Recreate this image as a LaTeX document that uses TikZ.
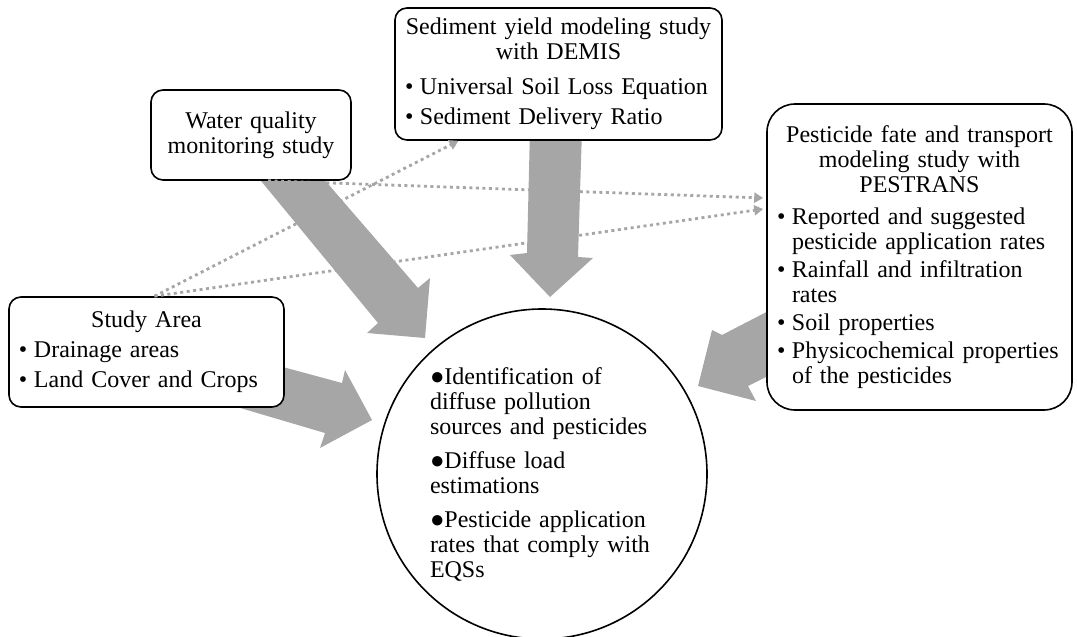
\documentclass[tikz,border=0pt]{standalone}
\usepackage{fontspec}
\setmainfont{Liberation Serif}
\usetikzlibrary{arrows.meta}
\usetikzlibrary{positioning}
\definecolor{arrowgray}{RGB}{166,166,166}
\newcommand{\itm}[1]{\par\hangindent=15pt\hangafter=1\noindent\makebox[15pt][l]{\textbullet}#1\par}

\begin{document}
\begin{tikzpicture}
	[x=1pt, y=-1pt,
	> = {Triangle[length=9pt,width=10pt]},
	every node/.style={font=\fontsize{24}{25}\selectfont\setlength{\parskip}{5pt}},
	box/.style = {draw, line width=1.6pt, rounded corners=12pt, fill=white, inner xsep=10pt, inner ysep=0pt, align=left},
	bubble/.style = {draw, circle, line width=1.6pt, fill=white, inner sep=0pt, minimum size=330pt, text width=224pt, align=left},
	blockarrow/.style = {fill=arrowgray, draw=none},
	dotarrow/.style = {->, draw=arrowgray, line width=2.8pt, dash pattern=on 3pt off 3.5pt}
	]
	\useasboundingbox (0,0) rectangle (1077,637);

	\fill[blockarrow] (252,170) -- (378,323) -- (367,333) -- (425,338) -- (430,278) -- (418,288) -- (316,170) -- cycle;
	\fill[blockarrow] (530,130) -- (527,253) -- (510,255) -- (550,297) -- (593,258) -- (578,257) -- (582,130) -- cycle;
	\fill[blockarrow] (220,350) -- (342,383) -- (345,370) -- (372,420) -- (320,448) -- (325,433) -- (220,402) -- cycle;
	\fill[blockarrow] (780,305) -- (722,335) -- (712,330) -- (698,386) -- (756,401) -- (748,386) -- (780,370) -- cycle;

	\node[box, text width=307pt, minimum height=132pt] (demis) at (558.5,74) {{\centering Sediment yield modeling study\\ with DEMIS\par}\vspace{5pt}\itm{Universal Soil Loss Equation}\itm{Sediment Delivery Ratio}};
	\node[box, text width=180pt, minimum height=90pt, align=center] (water) at (251,135) {Water quality\\ monitoring study};
	\node[box, rounded corners=28pt, text width=285pt, minimum height=306pt, font=\fontsize{24}{25}\selectfont\setlength{\parskip}{3pt}] (pest) at (919.5,257) {{\centering Pesticide fate and transport\\ modeling study with\\ PESTRANS\par}\vspace{4pt}\itm{Reported and suggested\newline pesticide application rates}\itm{Rainfall and infiltration\newline rates}\itm{Soil properties}\itm{Physicochemical properties\newline of the pesticides}};
	\node[box, text width=255pt, minimum height=110pt] (study) at (146.5,352) {{\centering Study Area\par}\itm{Drainage areas}\itm{Land Cover and Crops}};
	\node[bubble, font=\fontsize{24}{25}\selectfont\setlength{\parskip}{9pt}] (goals) at (542,474) {●Identification of\\ diffuse pollution\\ sources and pesticides\par ●Diffuse load\\ estimations\par ●Pesticide application\\ rates that comply with\\ EQSs};

	\draw[dotarrow] ([xshift=8pt]study.north) -- ([xshift=-100pt]demis.south);
	\draw[dotarrow] ([xshift=8pt]study.north) -- ([xshift=-3pt,yshift=48pt]pest.west);
	\draw[dotarrow] ([xshift=17pt]water.south) -- ([xshift=-3pt,yshift=59pt]pest.west);
\end{tikzpicture}
\end{document}
